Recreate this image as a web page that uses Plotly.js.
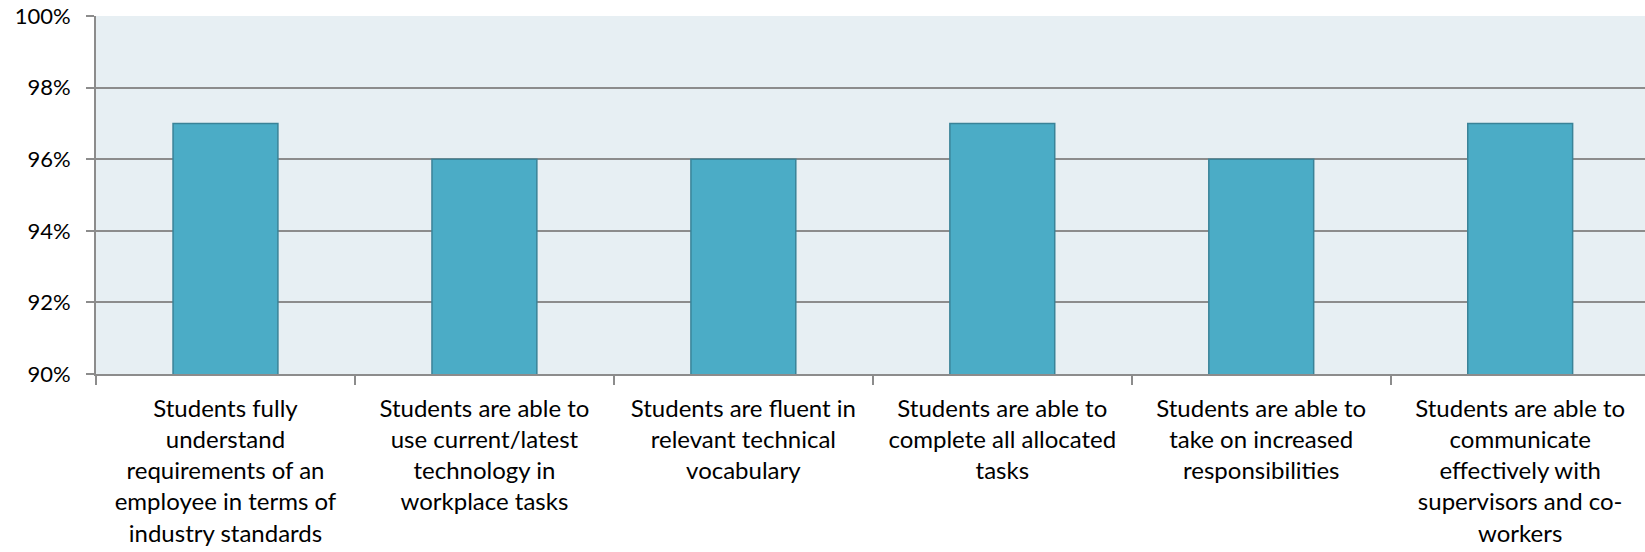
<!DOCTYPE html>
<html>
<head>
<meta charset="utf-8">
<script src="https://cdn.plot.ly/plotly-3.0.1.min.js"></script>
<style>html,body{margin:0;padding:0;background:#fff;}#chart{width:1645px;height:552px;}</style>
</head>
<body>
<div id="chart"></div>
<script>
const categories = [
  "Students fully<br>understand<br>requirements of an<br>employee in terms of<br>industry standards",
  "Students are able to<br>use current/latest<br>technology in<br>workplace tasks",
  "Students are fluent in<br>relevant technical<br>vocabulary",
  "Students are able to<br>complete all allocated<br>tasks",
  "Students are able to<br>take on increased<br>responsibilities",
  "Students are able to<br>communicate<br>effectively with<br>supervisors and co-<br>workers"
];
const values = [97, 96, 96, 97, 96, 97];
const yTicks = [90, 92, 94, 96, 98, 100];
const yTickLabels = ["90%", "92%", "94%", "96%", "98%", "100%"];

const trace = {
  type: "bar",
  x: categories,
  y: values,
  width: 0.405,
  marker: {color: "#4BACC6", line: {color: "#3A8398", width: 1.5}},
  hoverinfo: "skip"
};

const layout = {
  width: 1645, height: 552,
  margin: {l: 96, r: 0, t: 16, b: 178},
  paper_bgcolor: "#ffffff",
  plot_bgcolor: "#E7EFF3",
  showlegend: false,
  bargap: 0.595,
  font: {family: "Lato, 'Open Sans', sans-serif", size: 24, color: "#000"},
  xaxis: {
    type: "category",
    range: [-0.5, 5.482],
    tickson: "boundaries",
    ticks: "outside", ticklen: 9, tickwidth: 2, tickcolor: "#8C8C8C",
    showline: true, linecolor: "#8C8C8C", linewidth: 2,
    showgrid: false,
    tickangle: 0,
    ticklabelstandoff: 12,
    tickfont: {family: "Lato, 'Open Sans', sans-serif", size: 24, color: "#000"},
    fixedrange: true
  },
  yaxis: {
    range: [90, 100],
    tickvals: yTicks,
    ticktext: yTickLabels,
    ticks: "outside", ticklen: 8, tickwidth: 2, tickcolor: "#8C8C8C",
    showline: true, linecolor: "#8C8C8C", linewidth: 2,
    showgrid: true, gridcolor: "#8C8C8C", gridwidth: 2,
    zeroline: false,
    ticklabelstandoff: 11,
    tickfont: {family: "Lato, 'Open Sans', sans-serif", size: 22, color: "#000"},
    fixedrange: true
  }
};

Plotly.newPlot("chart", [trace], layout, {staticPlot: true, displayModeBar: false});
</script>
</body>
</html>
